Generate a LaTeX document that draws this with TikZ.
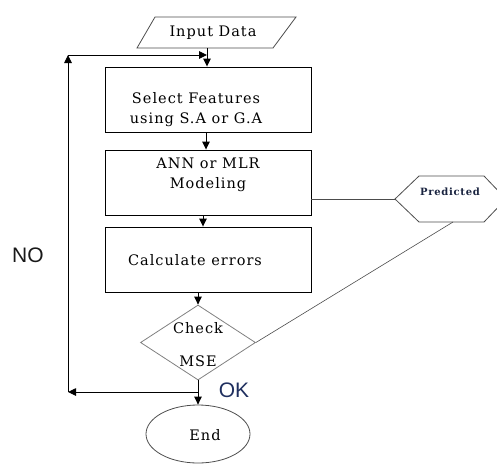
\documentclass[tikz,border=0pt]{standalone}
\usepackage{fontspec}
\setmainfont{DejaVu Serif}[LetterSpace=7]
\newfontfamily\labfont{Liberation Sans}
\usetikzlibrary{arrows.meta,shapes.geometric}
\definecolor{okblue}{HTML}{1F2F5F}
\definecolor{predtext}{HTML}{1A2440}
\tikzset{
  box/.style={draw=black,line width=0.9pt,minimum width=206pt,minimum height=65pt,inner sep=0pt},
  txt/.style={inner sep=0pt,font=\fontsize{14.5}{20}\selectfont,align=center},
  arr/.style={draw=black,line width=0.9pt,-{Triangle[length=8pt,width=7.5pt]}},
  darkln/.style={draw=black!70,line width=0.8pt},
  lbl/.style={inner sep=0pt,font=\labfont\fontsize{21}{24}\selectfont},
}
\begin{document}
\begin{tikzpicture}[x=1pt,y=-1pt]
\useasboundingbox (0,0) rectangle (497,463);
% input parallelogram
\coordinate (p1) at (137,48);
\coordinate (p2) at (155,17);
\coordinate (p3) at (296,17);
\coordinate (p4) at (273,48);
\draw[darkln] (p1) -- (p2) -- (p3) -- (p4) -- cycle;
\node[txt] (inp) at (213,33) {Input Data};
\coordinate (inpB) at (207,48);
% boxes
\node[box] (b1) at (208,99.5) {};
\node[txt] (b1t) at (196,110) {Select Features\\using S.A or G.A};
\node[box] (b2) at (208,182.5) {};
\node[txt] (b2t) at (208,175) {ANN or MLR\\Modeling};
\node[box] (b3) at (208,259.5) {};
\node[txt] (b3t) at (195,260) {Calculate errors};
% diamond
\node[draw=black!50,line width=0.8pt,diamond,minimum width=115pt,minimum height=75pt,inner sep=0pt] (chk) at (198,342.5) {};
\node[txt] (chkt) at (198,328) {Check};
\node[txt] (mset) at (198,361) {MSE};
% end ellipse
\node[draw=black!70,line width=0.8pt,ellipse,minimum width=104pt,minimum height=58pt,inner sep=0pt] (endn) at (198,434) {};
\node[txt] (endt) at (205,435) {End};
% predicted hexagon
\coordinate (hl) at (395,199);
\coordinate (htl) at (419,176);
\coordinate (htr) at (484,176);
\coordinate (hr) at (506,199);
\coordinate (hbr) at (484,222);
\coordinate (hbl) at (419,222);
\draw[darkln] (hl) -- (htl) -- (htr) -- (hr) -- (hbr) -- (hbl) -- cycle;
\node[inner sep=0pt,text=predtext,font=\bfseries\fontsize{10}{12}\selectfont] (pred) at (450,192) {Predicted};
\coordinate (hb) at (453,222);
% loop coordinates
\coordinate (split) at (198,392);
\coordinate (cbl) at (68,392);
\coordinate (ctl) at (68,55);
\coordinate (join) at (207,55);
% connectors
\draw[arr] (inpB) -- (inpB |- b1.north);
\draw[arr] (b1.south -| 206,0) -- (b2.north -| 206,0);
\draw[arr] (b2.south -| 203,0) -- (b3.north -| 203,0);
\draw[arr] (b3.south -| chk.north) -- (chk.north);
\draw[arr] (chk.south) -- (endn.north);
\draw[arr] (split) -- (cbl);
\draw[arr] (cbl) -- (ctl);
\draw[arr] (ctl) -- (join);
\draw[darkln] (b2.east |- hl) -- (hl);
\draw[black!70,line width=0.6pt] (hb) -- (chk.east);
% labels
\node[lbl,text=black!90] (no) at (28,255) {NO};
\node[lbl,text=okblue] (ok) at (234,390) {OK};
\end{tikzpicture}
\end{document}
